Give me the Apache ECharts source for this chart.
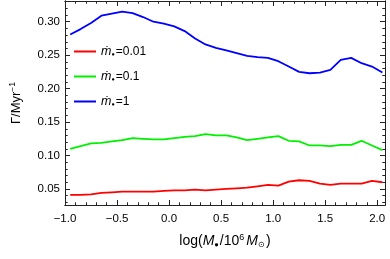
<!DOCTYPE html>
<html><head><meta charset="utf-8">
<script src="https://cdn.jsdelivr.net/npm/echarts@6/dist/echarts.min.js"></script>
<style>html,body{margin:0;padding:0;background:#fff}#c{width:390px;height:259px}</style>
</head><body><div id="c"></div>
<script>
const logM = [-0.95,-0.85,-0.75,-0.65,-0.55,-0.45,-0.35,-0.25,-0.15,-0.05,0.05,0.15,0.25,0.35,0.45,0.55,0.65,0.75,0.85,0.95,1.05,1.15,1.25,1.35,1.45,1.55,1.65,1.75,1.85,1.95,2.05];
const gamma001 = [0.041,0.041,0.042,0.044,0.045,0.046,0.046,0.046,0.046,0.047,0.048,0.048,0.049,0.048,0.049,0.050,0.051,0.052,0.054,0.056,0.055,0.061,0.063,0.062,0.058,0.056,0.058,0.058,0.058,0.062,0.060];
const gamma01 = [0.110,0.114,0.118,0.119,0.121,0.123,0.126,0.125,0.124,0.124,0.126,0.128,0.129,0.132,0.130,0.130,0.127,0.123,0.125,0.127,0.129,0.122,0.121,0.115,0.115,0.114,0.116,0.116,0.122,0.115,0.108];
const gamma1 = [0.281,0.289,0.298,0.309,0.312,0.315,0.313,0.307,0.300,0.297,0.293,0.286,0.275,0.266,0.261,0.257,0.253,0.249,0.247,0.246,0.241,0.233,0.225,0.223,0.224,0.228,0.243,0.246,0.238,0.233,0.224];
const seriesNames = ['0.01','0.1','1'];
const xMajor = [-1.0,-0.5,0.0,0.5,1.0,1.5,2.0];
const xMinor = [-0.9,-0.8,-0.7,-0.6,-0.4,-0.3,-0.2,-0.1,0.1,0.2,0.3,0.4,0.6,0.7,0.8,0.9,1.1,1.2,1.3,1.4,1.6,1.7,1.8,1.9];
const yMajor = [0.05,0.10,0.15,0.20,0.25,0.30];
const yMinor = [0.03,0.04,0.06,0.07,0.08,0.09,0.11,0.12,0.13,0.14,0.16,0.17,0.18,0.19,0.21,0.22,0.23,0.24,0.26,0.27,0.28,0.29,0.31,0.32,0.33];
const X_MIN = -1.0, X_MAX = 2.075, Y_MIN = 0.026, Y_MAX = 0.331;

const FONT = 'Liberation Sans, Arial, sans-serif';
const FRAME = '#222';
const fmtX = v => (v < 0 ? '\u2212' : '') + Math.abs(v).toFixed(1);
const fmtY = v => v.toFixed(2);

const nameRich = {
  n: {fontSize: 14, fontFamily: FONT, color: '#000'},
  i: {fontSize: 14, fontFamily: FONT, fontStyle: 'italic', color: '#000'},
  sub: {fontSize: 7.5, fontFamily: FONT, color: '#000', padding: [7, 1, 0, 0]},
  sup: {fontSize: 9, fontFamily: FONT, color: '#000', padding: [0, 2, 7, 0]}
};
const yRich = {
  n: {fontSize: 13, fontFamily: FONT, color: '#000'},
  sup: {fontSize: 8.5, fontFamily: FONT, color: '#000', padding: [0, 0, 7, 0]}
};

function xAx(pos, ticks, len, labels, name) {
  return {
    type: 'value', position: pos, min: X_MIN, max: X_MAX,
    axisLine: {show: true, onZero: false, lineStyle: {color: FRAME, width: 1}},
    axisTick: {show: true, inside: true, length: len, customValues: ticks, lineStyle: {color: FRAME, width: 1}},
    axisLabel: {show: labels, customValues: ticks, formatter: fmtX, color: '#000', fontSize: 11.5, fontFamily: FONT, margin: 8},
    splitLine: {show: false},
    name: name || '', nameLocation: 'middle', nameGap: 28,
    nameTextStyle: {color: '#000', fontSize: 14, fontFamily: FONT, rich: nameRich}
  };
}
function yAx(pos, ticks, len, labels, name) {
  return {
    type: 'value', position: pos, min: Y_MIN, max: Y_MAX,
    axisLine: {show: true, onZero: false, lineStyle: {color: FRAME, width: 1}},
    axisTick: {show: true, inside: true, length: len, customValues: ticks, lineStyle: {color: FRAME, width: 1}},
    axisLabel: {show: labels, customValues: ticks, formatter: fmtY, color: '#000', fontSize: 11.5, fontFamily: FONT, margin: 5},
    splitLine: {show: false},
    name: name || '', nameLocation: 'middle', nameGap: 41, nameRotate: 90,
    nameTextStyle: {color: '#000', fontSize: 13, fontFamily: FONT, rich: yRich}
  };
}

const xName = '{n|log(}{i|M}{sub|\u25CF}{n|/10}{sup|6}{i|M}{sub|\u2299}{n|)}';
const yName = '{n|\u0393/Myr}{sup|\u22121}';

const colors = ['#ff0000', '#00f000', '#0000ff'];
const data = [gamma001, gamma01, gamma1];

const option = {
  animation: false,
  grid: {left: 57, right: 5, top: 1, bottom: 54, containLabel: false},
  xAxis: [
    xAx('bottom', xMajor, 5, true, xName),
    xAx('bottom', xMinor, 2.7, false),
    xAx('top', xMajor, 5, false),
    xAx('top', xMinor, 2.7, false)
  ],
  yAxis: [
    yAx('left', yMajor, 5, true, yName),
    yAx('left', yMinor, 2.7, false),
    yAx('right', yMajor, 5, false),
    yAx('right', yMinor, 2.7, false)
  ],
  legend: {
    orient: 'vertical', left: 69, top: 40, itemWidth: 22, itemHeight: 2, itemGap: 12,
    icon: 'rect', data: seriesNames,
    formatter: n => '{m|\u1E41}{s|\u25CF}{t|=' + n + '}',
    textStyle: {color: '#000', fontSize: 12, fontFamily: FONT,
      rich: {
        m: {fontSize: 12.5, fontStyle: 'italic', fontFamily: FONT, color: '#000'},
        s: {fontSize: 5.5, fontFamily: FONT, color: '#000', padding: [6, 1, 0, 0]},
        t: {fontSize: 12, fontFamily: FONT, color: '#000'}
      }}
  },
  series: seriesNames.map((n, k) => ({
    name: n, type: 'line', xAxisIndex: 0, yAxisIndex: 0,
    data: logM.map((x, i) => [x, data[k][i]]),
    showSymbol: false, symbol: 'none', color: colors[k],
    lineStyle: {color: colors[k], width: 1.8}
  }))
};
echarts.init(document.getElementById('c'), null, {renderer: 'canvas'}).setOption(option);
</script></body></html>
